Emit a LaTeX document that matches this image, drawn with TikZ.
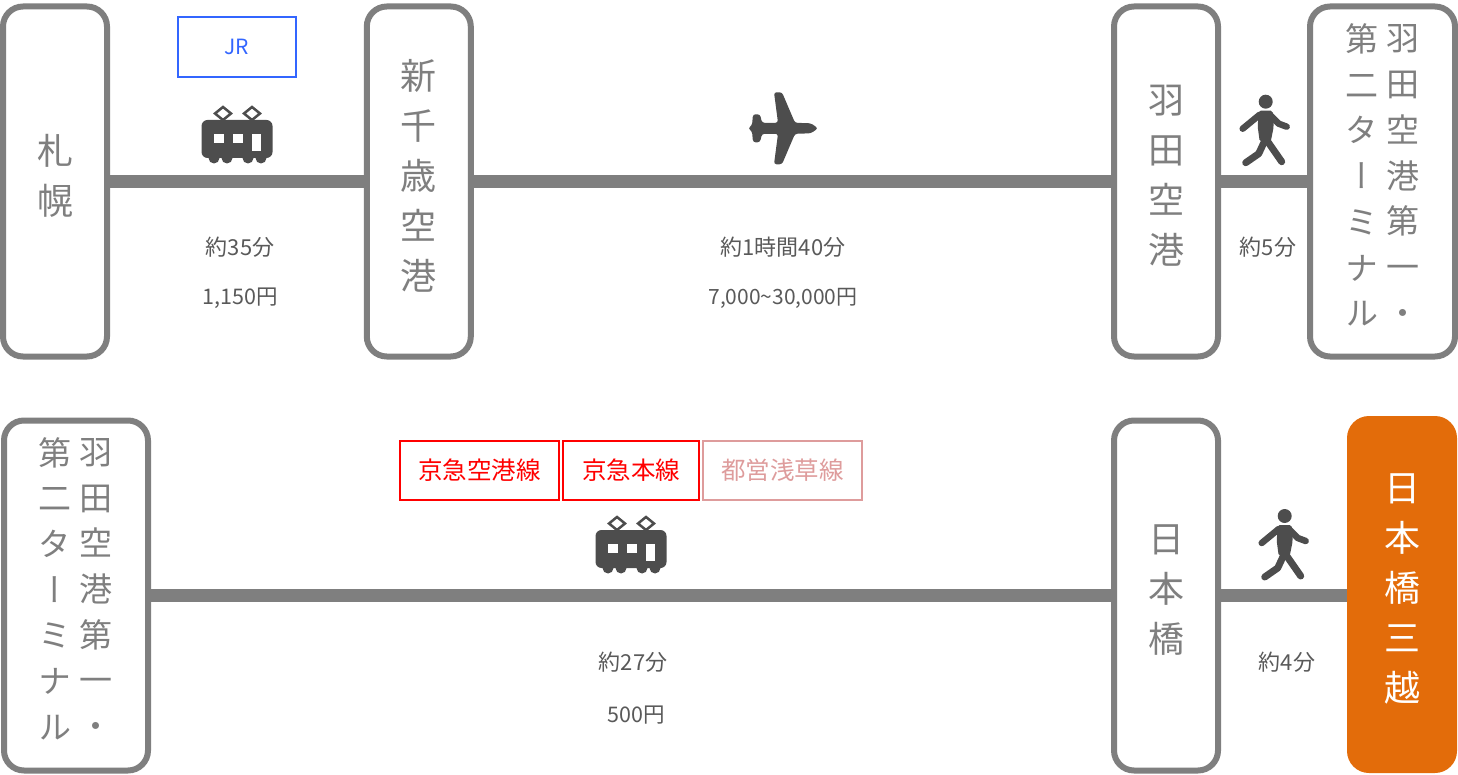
\documentclass[tikz,border=0pt]{standalone}
\usepackage{fontspec}
\setmainfont{Noto Sans CJK JP}
\newfontfamily\vertfont[RawFeature={+vert}]{Noto Sans CJK JP}
\usepackage{xcolor}
\definecolor{linegray}{HTML}{7F7F7F}
\definecolor{icongray}{HTML}{4D4D4D}
\definecolor{notegray}{HTML}{595959}
\definecolor{jrblue}{HTML}{3366FF}
\definecolor{keikyured}{HTML}{FF0000}
\definecolor{toeipink}{HTML}{DE9C9C}
\definecolor{goalorange}{HTML}{E36C0A}
\tikzset{
  station/.style={draw=linegray, line width=6pt, rounded corners=20pt, fill=white, text=linegray,
    align=center, inner sep=0pt, text depth=14pt, font=\fontsize{36}{50}\selectfont},
  stationtwo/.style={text=linegray, align=center, inner sep=0pt, font=\vertfont\fontsize{33}{45.7}\selectfont},
  goal/.style={fill=goalorange, rounded corners=22pt, text=white, align=center, inner sep=0pt,
    text depth=14pt, font=\fontsize{36}{50}\selectfont},
  railline/.style={draw=linegray, line width=13pt},
  note/.style={text=notegray, inner sep=0pt, font=\fontsize{22}{26}\selectfont},
  linebox/.style={draw=#1, text=#1, line width=2pt, inner sep=0pt, minimum height=59pt, font=\fontsize{24.5}{28}\selectfont},
}
\newcommand{\trainicon}[2]{
  \begin{scope}[shift={(#1,#2)}]
    \draw[icongray, line width=2.5pt] (-14,-27) -- (-6,-20.5) -- (-14,-14) -- (-22,-20.5) -- cycle;
    \draw[icongray, line width=2.5pt] (15,-27) -- (23,-20.5) -- (15,-14) -- (7,-20.5) -- cycle;
    \fill[icongray, rounded corners=6pt] (-35.5,-14) rectangle (35.5,24);
    \foreach \wheelx in {-23,-10,11,24}
      \fill[icongray] (\wheelx,24) circle (5.5);
    \fill[white] (-23,0) rectangle (-13,9);
    \fill[white] (-4,0) rectangle (6,9);
    \fill[white] (15,0) rectangle (24,17);
  \end{scope}
}
\newcommand{\walkicon}[2]{
  \begin{scope}[shift={(#1,#2)}]
    \fill[icongray] (0,0) circle (7);
    \fill[icongray, rounded corners=2pt] (-7,9) -- (7,9) -- (8,25) -- (5,40) -- (-6,40) -- (-8,25) -- cycle;
    \draw[icongray, line width=6.5pt, line cap=round, line join=round] (-23,27) -- (-6,13);
    \draw[icongray, line width=6.5pt, line cap=round, line join=round] (4,13) -- (13,22) -- (21,25);
    \draw[icongray, line width=7pt, line cap=round, line join=round] (0,37) -- (-7,52) -- (-20,61);
    \draw[icongray, line width=7pt, line cap=round, line join=round] (0,37) -- (16,60);
  \end{scope}
}
\begin{document}
\begin{tikzpicture}[x=1pt, y=-1pt]
  \useasboundingbox (0,0) rectangle (1458,775);

  % first row
  \node [station, minimum width=104pt, minimum height=350pt] at (55,181.5) (sapporo) {札\\幌};
  \node [station, minimum width=104pt, minimum height=350pt] at (418.8,181.5) (chitose) {新\\千\\歳\\空\\港};
  \node [station, minimum width=104pt, minimum height=350pt] at (1166,181.5) (haneda) {羽\\田\\空\\港};
  \node [station, minimum width=145pt, minimum height=350pt] at (1382.5,181.5) (terminal) {};
  \node [stationtwo] at (1403,175) (terminalr) {羽\\田\\空\\港\\第\\一\\・};
  \node [stationtwo] at (1362,175) (terminall) {第\\二\\タ\\ー\\ミ\\ナ\\ル};

  \draw [railline] (sapporo) -- (chitose);
  \draw [railline] (chitose) -- (haneda);
  \draw [railline] (haneda) -- (terminal);

  \node [linebox=jrblue, minimum width=118pt, minimum height=60pt, font=\fontsize{21}{25}\selectfont] at (237,47) (jr) {JR};
  \trainicon{237}{134}

  % plane
  \fill [icongray, rounded corners=2.5pt, shift={(783,128.3)}]
    (-35,0) -- (-31,-3) -- (-30,-14) -- (-23,-14) -- (-21,-5.5) -- (-5,-5.5) -- (-9,-36) -- (-1,-36)
    -- (12,-5.5) -- (28,-5) -- (35,0) -- (28,5) -- (12,5.5) -- (-1,36) -- (-9,36) -- (-5,5.5)
    -- (-21,5.5) -- (-23,14) -- (-30,14) -- (-31,3) -- cycle;

  \walkicon{1265.7}{101.7}

  \node [note] at (240,247) (timea) {約35分};
  \node [note, font=\fontsize{21.5}{26}\selectfont] at (240,298) (farea) {1,150円};
  \node [note] at (783,247) (timeb) {約1時間40分};
  \node [note, font=\fontsize{21}{26}\selectfont] at (783,298) (fareb) {7,000\textasciitilde30,000円};
  \node [note] at (1268,247) (timec) {約5分};

  % second row
  \node [station, minimum width=144pt, minimum height=350pt] at (76,595.5) (terminalb) {};
  \node [stationtwo] at (96,588.5) (terminalbr) {羽\\田\\空\\港\\第\\一\\・};
  \node [stationtwo] at (55,588.5) (terminalbl) {第\\二\\タ\\ー\\ミ\\ナ\\ル};
  \node [station, minimum width=104pt, minimum height=350pt] at (1166,595.5) (nihonbashi) {日\\本\\橋};
  \node [goal, minimum width=110pt, minimum height=357pt] at (1402,594.5) (mitsukoshi) {日\\本\\橋\\三\\越};

  \draw [railline] (terminalb) -- (nihonbashi);
  \draw [railline] (nihonbashi) -- (nihonbashi -| mitsukoshi.west);

  \node [linebox=keikyured, minimum width=159pt] at (479.5,470.5) (airport) {京急空港線};
  \node [linebox=keikyured, minimum width=136pt] at (631,470.5) (main) {京急本線};
  \node [linebox=toeipink, minimum width=159pt] at (782.5,470.5) (asakusa) {都営浅草線};
  \trainicon{631}{544}
  \walkicon{1284.7}{516}

  \node [note] at (633,662) (timed) {約27分};
  \node [note, font=\fontsize{21.5}{26}\selectfont] at (636,715) (fared) {500円};
  \node [note] at (1287,662) (timee) {約4分};
\end{tikzpicture}
\end{document}
